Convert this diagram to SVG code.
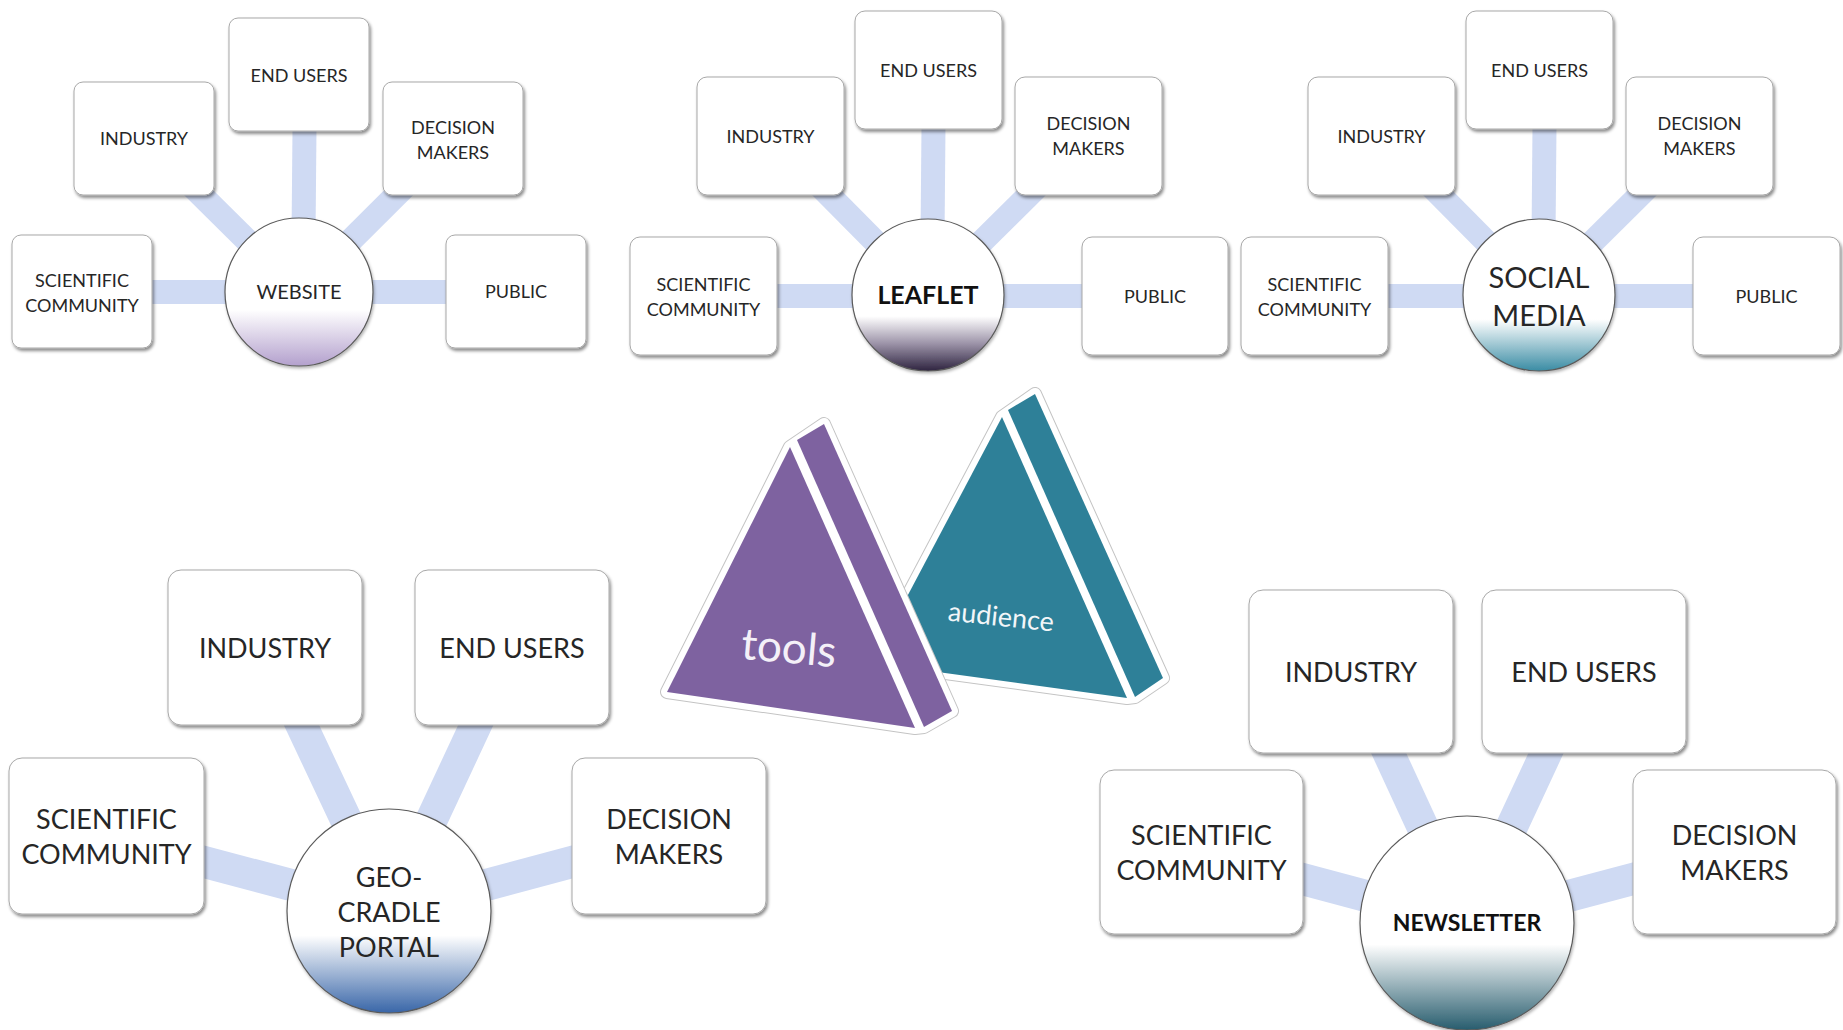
<svg xmlns="http://www.w3.org/2000/svg" width="1843" height="1030" viewBox="0 0 1843 1030">
  <defs>
    <filter id="boxShadow" x="-10%" y="-10%" width="125%" height="130%">
      <feDropShadow dx="1.5" dy="2.5" stdDeviation="1.5" flood-color="#000" flood-opacity="0.45"/>
    </filter>
    <filter id="hubShadow" x="-10%" y="-10%" width="125%" height="125%">
      <feDropShadow dx="1" dy="2" stdDeviation="1.5" flood-color="#000" flood-opacity="0.3"/>
    </filter>
    <linearGradient id="gWebsite" x1="0" y1="0" x2="0" y2="1">
      <stop offset="0" stop-color="#fff"/>
      <stop offset="0.62" stop-color="#fff"/>
      <stop offset="1" stop-color="#b3a0cd"/>
    </linearGradient>
    <linearGradient id="gLeaflet" x1="0" y1="0" x2="0" y2="1">
      <stop offset="0" stop-color="#fff"/>
      <stop offset="0.64" stop-color="#fff"/>
      <stop offset="0.82" stop-color="#9c93a8"/>
      <stop offset="1" stop-color="#2e2440"/>
    </linearGradient>
    <linearGradient id="gSocial" x1="0" y1="0" x2="0" y2="1">
      <stop offset="0" stop-color="#fff"/>
      <stop offset="0.66" stop-color="#fff"/>
      <stop offset="1" stop-color="#3a8ca4"/>
    </linearGradient>
    <linearGradient id="gPortal" x1="0" y1="0" x2="0" y2="1">
      <stop offset="0" stop-color="#fff"/>
      <stop offset="0.62" stop-color="#fff"/>
      <stop offset="1" stop-color="#3966a8"/>
    </linearGradient>
    <linearGradient id="gNews" x1="0" y1="0" x2="0" y2="1">
      <stop offset="0" stop-color="#fff"/>
      <stop offset="0.6" stop-color="#fff"/>
      <stop offset="1" stop-color="#285d6e"/>
    </linearGradient>
    <style>
      .box { fill: #fff; stroke: #a8a8a8; stroke-width: 1; filter: url(#boxShadow); }
      .hub { stroke: #5a5a5a; stroke-width: 1.2; filter: url(#hubShadow); }
      .bar { stroke: #cfdaf3; fill: none; stroke-linecap: butt; }
      .thin { stroke-width: 24; }
      .wide { stroke-width: 32; }
      text { font-family: Lato, "Open Sans", "Liberation Sans", sans-serif; fill: #262626; text-anchor: middle; }
      .s { font-size: 18px; }
      .m { font-size: 27px; }
      .rim0 { fill: none; stroke: #c4c4c4; stroke-width: 14; stroke-linejoin: round; }
      .rim1 { fill: #fff; stroke: #fff; stroke-width: 12; stroke-linejoin: round; }
      .purple { fill: #7e62a0; }
      .teal { fill: #2e8098; }
      .prism { fill: #f4f0f8; }
    </style>
  </defs>

  <rect x="0" y="0" width="1843" height="1030" fill="#fff"/>

  <!-- spokes: hub centre to box centre, ends hidden under the nodes -->
  <g id="connectors">
    <g class="bar thin">
      <line x1="299" y1="292" x2="82" y2="292"/>
      <line x1="299" y1="292" x2="144" y2="138.5"/>
      <line x1="303" y1="292" x2="305" y2="74.5"/>
      <line x1="299" y1="292" x2="453" y2="138.5"/>
      <line x1="299" y1="292" x2="516" y2="292"/>

      <line x1="928" y1="296" x2="703.5" y2="296"/>
      <line x1="928" y1="295" x2="770.5" y2="136"/>
      <line x1="932" y1="295" x2="934" y2="70"/>
      <line x1="928" y1="295" x2="1088.5" y2="136"/>
      <line x1="928" y1="296" x2="1155.5" y2="296"/>

      <line x1="1539" y1="296" x2="1314.5" y2="296"/>
      <line x1="1539" y1="295" x2="1381.5" y2="136"/>
      <line x1="1543" y1="295" x2="1545" y2="70"/>
      <line x1="1539" y1="295" x2="1699.5" y2="136"/>
      <line x1="1539" y1="296" x2="1766.5" y2="296"/>
    </g>
    <g class="bar wide">
      <line x1="389" y1="911" x2="106.5" y2="836"/>
      <line x1="389" y1="911" x2="265" y2="647.5"/>
      <line x1="389" y1="911" x2="512" y2="647.5"/>
      <line x1="389" y1="911" x2="669" y2="836"/>

      <line x1="1467" y1="923" x2="1201.5" y2="852"/>
      <line x1="1467" y1="923" x2="1351" y2="671.5"/>
      <line x1="1467" y1="923" x2="1584" y2="671.5"/>
      <line x1="1467" y1="923" x2="1734.5" y2="852"/>
    </g>
  </g>

  <!-- WEBSITE cluster -->
  <g id="website-scientific"><rect class="box" x="12" y="235" width="140" height="113" rx="9"/><text class="s" x="82" y="286.5">SCIENTIFIC</text><text class="s" x="82" y="311.5">COMMUNITY</text></g>
  <g id="website-industry"><rect class="box" x="74" y="82" width="140" height="113" rx="9"/><text class="s" x="144" y="145">INDUSTRY</text></g>
  <g id="website-endusers"><rect class="box" x="229" y="18" width="140" height="113" rx="9"/><text class="s" x="299" y="81.5">END USERS</text></g>
  <g id="website-decision"><rect class="box" x="383" y="82" width="140" height="113" rx="9"/><text class="s" x="453" y="133.5">DECISION</text><text class="s" x="453" y="158.5">MAKERS</text></g>
  <g id="website-public"><rect class="box" x="446" y="235" width="140" height="113" rx="9"/><text class="s" x="516" y="298">PUBLIC</text></g>
  <g id="website"><circle class="hub" cx="299" cy="292" r="74" fill="url(#gWebsite)"/><text x="299" y="299" style="font-size:20px">WEBSITE</text></g>

  <!-- LEAFLET cluster -->
  <g id="leaflet-scientific"><rect class="box" x="630" y="237" width="147" height="118" rx="10"/><text class="s" x="703.5" y="290.5">SCIENTIFIC</text><text class="s" x="703.5" y="315.5">COMMUNITY</text></g>
  <g id="leaflet-industry"><rect class="box" x="697" y="77" width="147" height="118" rx="10"/><text class="s" x="770.5" y="142.5">INDUSTRY</text></g>
  <g id="leaflet-endusers"><rect class="box" x="855" y="11" width="147" height="118" rx="10"/><text class="s" x="928.5" y="76.5">END USERS</text></g>
  <g id="leaflet-decision"><rect class="box" x="1015" y="77" width="147" height="118" rx="10"/><text class="s" x="1088.5" y="129.5">DECISION</text><text class="s" x="1088.5" y="154.5">MAKERS</text></g>
  <g id="leaflet-public"><rect class="box" x="1082" y="237" width="146" height="118" rx="10"/><text class="s" x="1155" y="303">PUBLIC</text></g>
  <g id="leaflet"><circle class="hub" cx="928" cy="295" r="76" fill="url(#gLeaflet)"/><text x="928" y="304" style="font-size:25px;font-weight:bold;fill:#111">LEAFLET</text></g>

  <!-- SOCIAL MEDIA cluster -->
  <g id="social-scientific"><rect class="box" x="1241" y="237" width="147" height="118" rx="10"/><text class="s" x="1314.5" y="290.5">SCIENTIFIC</text><text class="s" x="1314.5" y="315.5">COMMUNITY</text></g>
  <g id="social-industry"><rect class="box" x="1308" y="77" width="147" height="118" rx="10"/><text class="s" x="1381.5" y="142.5">INDUSTRY</text></g>
  <g id="social-endusers"><rect class="box" x="1466" y="11" width="147" height="118" rx="10"/><text class="s" x="1539.5" y="76.5">END USERS</text></g>
  <g id="social-decision"><rect class="box" x="1626" y="77" width="147" height="118" rx="10"/><text class="s" x="1699.5" y="129.5">DECISION</text><text class="s" x="1699.5" y="154.5">MAKERS</text></g>
  <g id="social-public"><rect class="box" x="1693" y="237" width="147" height="118" rx="10"/><text class="s" x="1766.5" y="303">PUBLIC</text></g>
  <g id="social-media"><circle class="hub" cx="1539" cy="295" r="76" fill="url(#gSocial)"/><text x="1539" y="287.5" style="font-size:29px">SOCIAL</text><text x="1539" y="325.5" style="font-size:29px">MEDIA</text></g>

  <!-- GEO-CRADLE PORTAL cluster -->
  <g id="portal-scientific"><rect class="box" x="9" y="758" width="195" height="156" rx="13"/><text class="m" x="106.5" y="828.5">SCIENTIFIC</text><text class="m" x="106.5" y="863.5">COMMUNITY</text></g>
  <g id="portal-industry"><rect class="box" x="168" y="570" width="194" height="155" rx="13"/><text class="m" x="265" y="657.5">INDUSTRY</text></g>
  <g id="portal-endusers"><rect class="box" x="415" y="570" width="194" height="155" rx="13"/><text class="m" x="512" y="657.5">END USERS</text></g>
  <g id="portal-decision"><rect class="box" x="572" y="758" width="194" height="156" rx="13"/><text class="m" x="669" y="828.5">DECISION</text><text class="m" x="669" y="863.5">MAKERS</text></g>
  <g id="geo-cradle-portal"><circle class="hub" cx="389" cy="911" r="102" fill="url(#gPortal)"/><text class="m" x="389" y="886.5">GEO-</text><text class="m" x="389" y="921.5">CRADLE</text><text class="m" x="389" y="956.5">PORTAL</text></g>

  <!-- NEWSLETTER cluster -->
  <g id="news-scientific"><rect class="box" x="1100" y="770" width="203" height="164" rx="14"/><text class="m" x="1201.5" y="844.5">SCIENTIFIC</text><text class="m" x="1201.5" y="879.5">COMMUNITY</text></g>
  <g id="news-industry"><rect class="box" x="1249" y="590" width="204" height="163" rx="14"/><text class="m" x="1351" y="681.5">INDUSTRY</text></g>
  <g id="news-endusers"><rect class="box" x="1482" y="590" width="204" height="163" rx="14"/><text class="m" x="1584" y="681.5">END USERS</text></g>
  <g id="news-decision"><rect class="box" x="1633" y="770" width="203" height="164" rx="14"/><text class="m" x="1734.5" y="844.5">DECISION</text><text class="m" x="1734.5" y="879.5">MAKERS</text></g>
  <g id="newsletter"><circle class="hub" cx="1467" cy="923" r="107" fill="url(#gNews)"/><text x="1467" y="931" style="font-size:23px;font-weight:bold;fill:#111">NEWSLETTER</text></g>

  <!-- audience prism (behind) -->
  <g id="audience">
    <polygon class="rim0" points="872,663 1002,417 1035,394 1163,678 1135,697 1127,698"/>
    <polygon class="rim1" points="872,663 1002,417 1035,394 1163,678 1135,697 1127,698"/>
    <polygon class="teal" points="1002,417 1127,698 872,663"/>
    <polygon class="teal" points="1008,410 1035,394 1163,678 1135,697"/>
    <text class="prism" x="1001" y="626" transform="rotate(6 1001 617)" style="font-size:27px;fill:#f2f6f8">audience</text>
  </g>

  <!-- tools prism (front) -->
  <g id="tools">
    <polygon class="rim0" points="667,692 790,447 824,424 952,711 924,727 915,728"/>
    <polygon class="rim1" points="667,692 790,447 824,424 952,711 924,727 915,728"/>
    <polygon class="purple" points="790,447 915,728 667,692"/>
    <polygon class="purple" points="797,440 824,424 952,711 924,727"/>
    <text x="789" y="663" transform="rotate(5 789 648)" style="font-size:44px;fill:#f4f0f8">tools</text>
  </g>
</svg>
